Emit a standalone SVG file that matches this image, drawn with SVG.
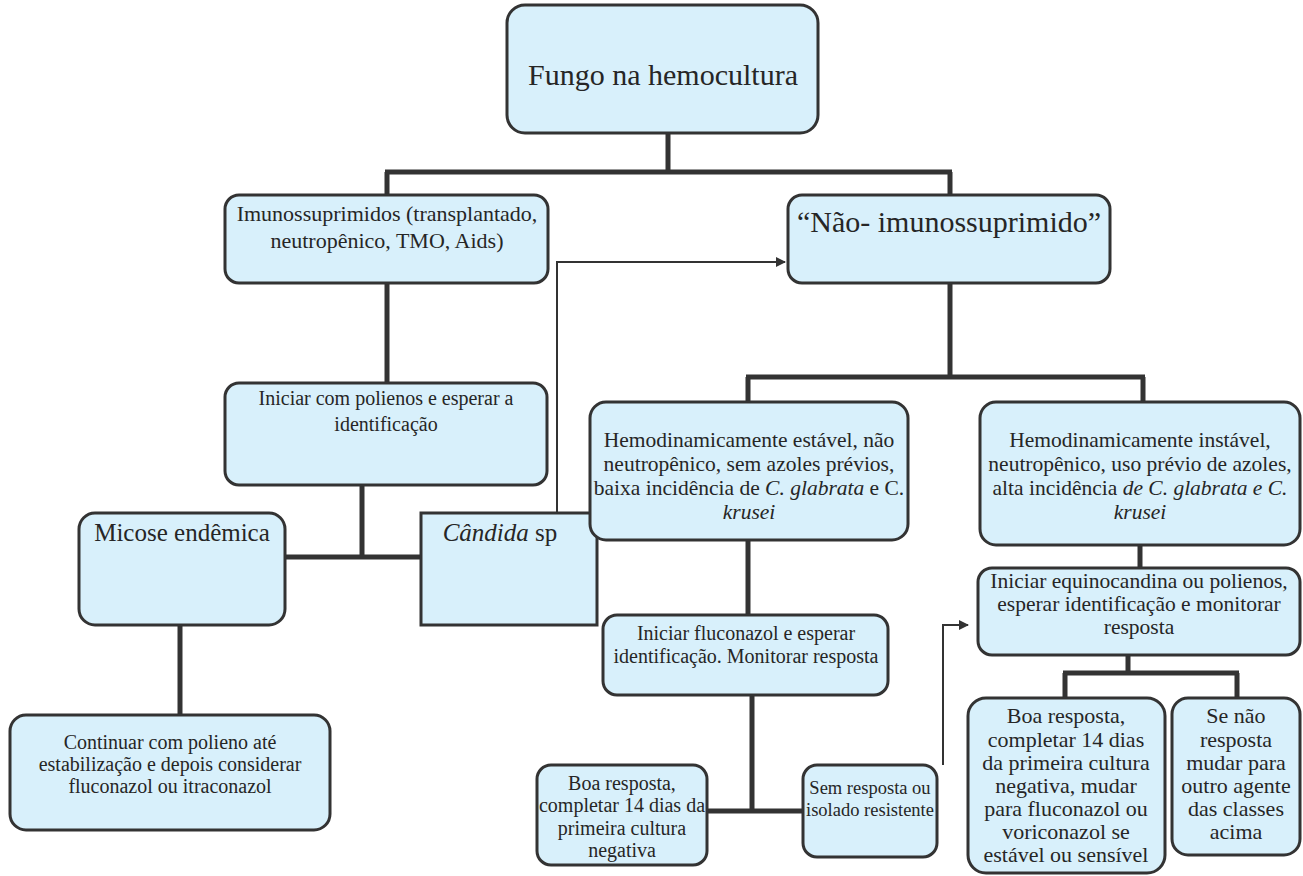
<svg xmlns="http://www.w3.org/2000/svg" width="1303" height="876" viewBox="0 0 1303 876">
<style>
.box{fill:#d8f0fb;stroke:#333333;stroke-width:3}
.t{fill:#262626;text-anchor:middle;font-family:"Liberation Serif","DejaVu Serif",serif}
.s18{font-size:18.5px}
.s20{font-size:20px}
.s21{font-size:21.5px}
.s22{font-size:22px}
.s24{font-size:25px}
.s30{font-size:30px}
.c{fill:none;stroke:#333333;stroke-width:5}
.thin{fill:none;stroke:#333333;stroke-width:2}
</style>
<defs>
<marker id="ah" viewBox="0 0 10 10" refX="9" refY="5" markerWidth="5" markerHeight="5" orient="auto">
<path d="M0,0 L10,5 L0,10 z" fill="#333333"/>
</marker>
</defs>
<rect width="1303" height="876" fill="#ffffff"/>
<g id="connectors">
<path class="c" d="M668,133 V172 M385,172 H952 M387,172 V195 M950,172 V195"/>
<path class="c" d="M387,283 V383"/>
<path class="c" d="M362,485 V557 M285,557 H421"/>
<path class="c" d="M180,625 V715"/>
<path class="c" d="M950,283 V377 M746,377 H1145 M748,377 V402 M1143,377 V402"/>
<path class="c" d="M1140,545 V568"/>
<path class="c" d="M748,540 V615"/>
<path class="c" d="M752,695 V811 M707,811 H803"/>
<path class="c" d="M1128,655 V673 M1063,673 H1239 M1065,673 V698 M1237,673 V698"/>
<path class="thin" d="M557,513 V262 H785" marker-end="url(#ah)"/>
<path class="thin" d="M943,765 V625 H968" marker-end="url(#ah)"/>
</g>
<g id="n-fungo">
<rect class="box" x="507" y="5" width="311" height="128" rx="18"/>
<text class="t s30" x="663" y="85">Fungo na hemocultura</text>
</g>
<g id="n-imuno">
<rect class="box" x="225" y="195" width="323" height="88" rx="14"/>
<text class="t s22" x="387" y="221">Imunossuprimidos (transplantado,</text>
<text class="t s22" x="387" y="248">neutropênico, TMO, Aids)</text>
</g>
<g id="n-naoimuno">
<rect class="box" x="788" y="195" width="322" height="88" rx="14"/>
<text class="t s30" x="949" y="232">“Não- imunossuprimido”</text>
</g>
<g id="n-polienos">
<rect class="box" x="225" y="383" width="322" height="102" rx="14"/>
<text class="t s20" x="386" y="405">Iniciar com polienos e esperar a</text>
<text class="t s20" x="386" y="431">identificação</text>
</g>
<g id="n-micose">
<rect class="box" x="79" y="513" width="206" height="112" rx="16"/>
<text class="t s24" x="182" y="541">Micose endêmica</text>
</g>
<g id="n-candida">
<rect class="box" x="421" y="513" width="176" height="112"/>
<text class="t s24" x="500" y="541"><tspan font-style="italic">Cândida</tspan> sp</text>
</g>
<g id="n-continuar">
<rect class="box" x="10" y="715" width="320" height="115" rx="16"/>
<text class="t s20" x="170" y="749">Continuar com polieno até</text>
<text class="t s20" x="170" y="771">estabilização e depois considerar</text>
<text class="t s20" x="170" y="793">fluconazol ou itraconazol</text>
</g>
<g id="n-estavel">
<rect class="box" x="590" y="402" width="318" height="138" rx="16"/>
<text class="t s21" x="749" y="447">Hemodinamicamente estável, não</text>
<text class="t s21" x="749" y="471">neutropênico, sem azoles prévios,</text>
<text class="t s21" x="749" y="495">baixa incidência de <tspan font-style="italic">C. glabrata</tspan> e C.</text>
<text class="t s21" x="749" y="519" font-style="italic">krusei</text>
</g>
<g id="n-instavel">
<rect class="box" x="980" y="402" width="320" height="143" rx="16"/>
<text class="t s21" x="1140" y="447">Hemodinamicamente instável,</text>
<text class="t s21" x="1140" y="471">neutropênico, uso prévio de azoles,</text>
<text class="t s21" x="1140" y="495">alta incidência <tspan font-style="italic">de C. glabrata e C.</tspan></text>
<text class="t s21" x="1140" y="519" font-style="italic">krusei</text>
</g>
<g id="n-equino">
<rect class="box" x="978" y="568" width="322" height="87" rx="14"/>
<text class="t s21" x="1139" y="588">Iniciar equinocandina ou polienos,</text>
<text class="t s21" x="1139" y="611">esperar identificação e monitorar</text>
<text class="t s21" x="1139" y="634">resposta</text>
</g>
<g id="n-fluconazol">
<rect class="box" x="603" y="615" width="285" height="80" rx="14"/>
<text class="t s20" x="746" y="640">Iniciar fluconazol e esperar</text>
<text class="t s20" x="746" y="663">identificação. Monitorar resposta</text>
</g>
<g id="n-boa1">
<rect class="box" x="537" y="765" width="170" height="100" rx="14"/>
<text class="t s20" x="622" y="790">Boa resposta,</text>
<text class="t s20" x="622" y="812">completar 14 dias da</text>
<text class="t s20" x="622" y="835">primeira cultura</text>
<text class="t s20" x="622" y="857">negativa</text>
</g>
<g id="n-sem">
<rect class="box" x="803" y="765" width="134" height="92" rx="14"/>
<text class="t s18" x="870" y="794">Sem resposta ou</text>
<text class="t s18" x="870" y="816">isolado resistente</text>
</g>
<g id="n-boa2">
<rect class="box" x="968" y="698" width="197" height="175" rx="18"/>
<text class="t s22" x="1066" y="723">Boa resposta,</text>
<text class="t s22" x="1066" y="747">completar 14 dias</text>
<text class="t s22" x="1066" y="770">da primeira cultura</text>
<text class="t s22" x="1066" y="793">negativa, mudar</text>
<text class="t s22" x="1066" y="816">para fluconazol ou</text>
<text class="t s22" x="1066" y="839">voriconazol se</text>
<text class="t s22" x="1066" y="862">estável ou sensível</text>
</g>
<g id="n-senao">
<rect class="box" x="1172" y="698" width="128" height="157" rx="16"/>
<text class="t s22" x="1236" y="723">Se não</text>
<text class="t s22" x="1236" y="747">resposta</text>
<text class="t s22" x="1236" y="770">mudar para</text>
<text class="t s22" x="1236" y="793">outro agente</text>
<text class="t s22" x="1236" y="816">das classes</text>
<text class="t s22" x="1236" y="839">acima</text>
</g>
</svg>
